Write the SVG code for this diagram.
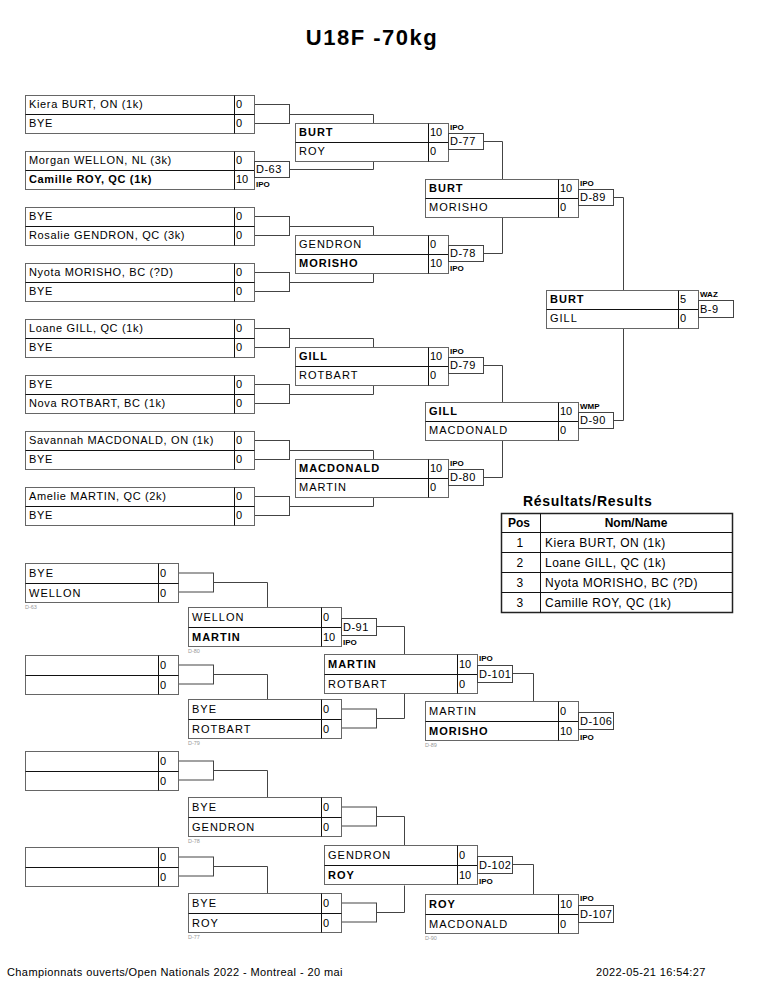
<svg xmlns="http://www.w3.org/2000/svg" width="765" height="990" viewBox="0 0 765 990">
<style>
.bg{fill:#fff}
.bx{fill:#fff;stroke:#666;stroke-width:1}
.dv{stroke:#111;stroke-width:1}
.cn{fill:none;stroke:#444;stroke-width:1}
.mb{fill:#fff;stroke:#444;stroke-width:1}
text{font-family:"Liberation Sans",Arial,Helvetica,sans-serif;fill:#000}
.t{font-size:11px}
.fn{letter-spacing:0.65px}
.sn{letter-spacing:1px}
.b{font-weight:bold}
.sc{font-size:11px}
.ml{font-size:11px;letter-spacing:0.5px}
.rs{font-size:8px;font-weight:bold}
.sm{font-size:5.5px;fill:#999}
.tt{font-size:22px;font-weight:bold;letter-spacing:1.5px}
.rt{font-size:14px;font-weight:bold;letter-spacing:0.7px}
.tb{font-size:12px;letter-spacing:0.5px}
.ft{font-size:11px}
</style>
<rect class="bg" x="0" y="0" width="765" height="990"/>
<text class="tt" x="372" y="45" text-anchor="middle">U18F -70kg</text>

<g id="connectors">
<rect class="mb" x="254.5" y="104.5" width="35" height="19"/>
<path class="cn" d="M289.5,114.5 H373.5 V123.5"/>
<path class="cn" d="M289.5,169.5 H373.5 V161.5"/>
<rect class="mb" x="254.5" y="216.5" width="35" height="19"/>
<path class="cn" d="M289.5,226.5 H373.5 V235.5"/>
<rect class="mb" x="254.5" y="272.5" width="35" height="19"/>
<path class="cn" d="M289.5,282.5 H373.5 V273.5"/>
<rect class="mb" x="254.5" y="328.5" width="35" height="19"/>
<path class="cn" d="M289.5,338.5 H373.5 V347.5"/>
<rect class="mb" x="254.5" y="384.5" width="35" height="19"/>
<path class="cn" d="M289.5,394.5 H373.5 V385.5"/>
<rect class="mb" x="254.5" y="440.5" width="35" height="19"/>
<path class="cn" d="M289.5,450.5 H373.5 V459.5"/>
<rect class="mb" x="254.5" y="496.5" width="35" height="19"/>
<path class="cn" d="M289.5,506.5 H373.5 V497.5"/>
<path class="cn" d="M483.5,141.5 H502.5 V179.5"/>
<path class="cn" d="M483.5,253.5 H502.5 V217.5"/>
<path class="cn" d="M483.5,365.5 H502.5 V402.5"/>
<path class="cn" d="M483.5,477.5 H502.5 V440.5"/>
<path class="cn" d="M613.5,197.5 H623.5 V290.5"/>
<path class="cn" d="M613.5,420.5 H623.5 V328.5"/>
<rect class="mb" x="178.5" y="573" width="35" height="19"/>
<path class="cn" d="M213.5,582.5 H267.5 V607.5"/>
<rect class="mb" x="178.5" y="665" width="35" height="19"/>
<path class="cn" d="M213.5,674.5 H267.5 V699.5"/>
<rect class="mb" x="178.5" y="761" width="35" height="19"/>
<path class="cn" d="M213.5,770.5 H267.5 V797.5"/>
<rect class="mb" x="178.5" y="857" width="35" height="19"/>
<path class="cn" d="M213.5,866.5 H267.5 V893.5"/>
<rect class="mb" x="341.5" y="709" width="35" height="19"/>
<rect class="mb" x="341.5" y="807" width="35" height="19"/>
<rect class="mb" x="341.5" y="903" width="35" height="19"/>
<path class="cn" d="M376.5,626.5 H404.5 V654.5"/>
<path class="cn" d="M376.5,718.5 H404.5 V693.5"/>
<path class="cn" d="M376.5,816.5 H404.5 V845.5"/>
<path class="cn" d="M376.5,912.5 H404.5 V885.5"/>
<path class="cn" d="M512.5,673.5 H533.5 V701.5"/>
<path class="cn" d="M512.5,864.5 H533.5 V894.5"/>
</g>

<!-- Top round 1 -->
<g id="t1"><rect class="bx" x="25.5" y="95.5" width="229" height="38"/><line class="dv" x1="25.5" y1="114.5" x2="254.5" y2="114.5"/><line class="dv" x1="234.5" y1="95.5" x2="234.5" y2="133.5"/>
<text class="t fn" x="29" y="108">Kiera BURT, ON (1k)</text><text class="t fn" x="29" y="127">BYE</text><text class="sc" x="236" y="108">0</text><text class="sc" x="236" y="127">0</text></g>
<g id="t2"><rect class="bx" x="25.5" y="151.5" width="229" height="38"/><line class="dv" x1="25.5" y1="170.5" x2="254.5" y2="170.5"/><line class="dv" x1="234.5" y1="151.5" x2="234.5" y2="189.5"/>
<text class="t fn" x="29" y="164">Morgan WELLON, NL (3k)</text><text class="t fn b" x="29" y="183">Camille ROY, QC (1k)</text><text class="sc" x="236" y="164">0</text><text class="sc" x="236" y="183">10</text>
<rect class="mb" x="254.5" y="161.5" width="35" height="16"/><text class="ml" x="256" y="173">D-63</text><text class="rs" x="256" y="187">IPO</text></g>
<g id="t3"><rect class="bx" x="25.5" y="207.5" width="229" height="38"/><line class="dv" x1="25.5" y1="226.5" x2="254.5" y2="226.5"/><line class="dv" x1="234.5" y1="207.5" x2="234.5" y2="245.5"/>
<text class="t fn" x="29" y="220">BYE</text><text class="t fn" x="29" y="239">Rosalie GENDRON, QC (3k)</text><text class="sc" x="236" y="220">0</text><text class="sc" x="236" y="239">0</text></g>
<g id="t4"><rect class="bx" x="25.5" y="263.5" width="229" height="38"/><line class="dv" x1="25.5" y1="282.5" x2="254.5" y2="282.5"/><line class="dv" x1="234.5" y1="263.5" x2="234.5" y2="301.5"/>
<text class="t fn" x="29" y="276">Nyota MORISHO, BC (?D)</text><text class="t fn" x="29" y="295">BYE</text><text class="sc" x="236" y="276">0</text><text class="sc" x="236" y="295">0</text></g>
<g id="t5"><rect class="bx" x="25.5" y="319.5" width="229" height="38"/><line class="dv" x1="25.5" y1="338.5" x2="254.5" y2="338.5"/><line class="dv" x1="234.5" y1="319.5" x2="234.5" y2="357.5"/>
<text class="t fn" x="29" y="332">Loane GILL, QC (1k)</text><text class="t fn" x="29" y="351">BYE</text><text class="sc" x="236" y="332">0</text><text class="sc" x="236" y="351">0</text></g>
<g id="t6"><rect class="bx" x="25.5" y="375.5" width="229" height="38"/><line class="dv" x1="25.5" y1="394.5" x2="254.5" y2="394.5"/><line class="dv" x1="234.5" y1="375.5" x2="234.5" y2="413.5"/>
<text class="t fn" x="29" y="388">BYE</text><text class="t fn" x="29" y="407">Nova ROTBART, BC (1k)</text><text class="sc" x="236" y="388">0</text><text class="sc" x="236" y="407">0</text></g>
<g id="t7"><rect class="bx" x="25.5" y="431.5" width="229" height="38"/><line class="dv" x1="25.5" y1="450.5" x2="254.5" y2="450.5"/><line class="dv" x1="234.5" y1="431.5" x2="234.5" y2="469.5"/>
<text class="t fn" x="29" y="444">Savannah MACDONALD, ON (1k)</text><text class="t fn" x="29" y="463">BYE</text><text class="sc" x="236" y="444">0</text><text class="sc" x="236" y="463">0</text></g>
<g id="t8"><rect class="bx" x="25.5" y="487.5" width="229" height="38"/><line class="dv" x1="25.5" y1="506.5" x2="254.5" y2="506.5"/><line class="dv" x1="234.5" y1="487.5" x2="234.5" y2="525.5"/>
<text class="t fn" x="29" y="500">Amelie MARTIN, QC (2k)</text><text class="t fn" x="29" y="519">BYE</text><text class="sc" x="236" y="500">0</text><text class="sc" x="236" y="519">0</text></g>

<!-- Top round 2 -->
<g id="r2a"><rect class="bx" x="295.5" y="123.5" width="153" height="38"/><line class="dv" x1="295.5" y1="142.5" x2="448.5" y2="142.5"/><line class="dv" x1="428.5" y1="123.5" x2="428.5" y2="161.5"/>
<text class="t sn b" x="299" y="136">BURT</text><text class="t sn" x="299" y="155">ROY</text><text class="sc" x="430" y="136">10</text><text class="sc" x="430" y="155">0</text>
<rect class="mb" x="448.5" y="133.5" width="35" height="16"/><text class="ml" x="450" y="145">D-77</text><text class="rs" x="450" y="130">IPO</text></g>
<g id="r2b"><rect class="bx" x="295.5" y="235.5" width="153" height="38"/><line class="dv" x1="295.5" y1="254.5" x2="448.5" y2="254.5"/><line class="dv" x1="428.5" y1="235.5" x2="428.5" y2="273.5"/>
<text class="t sn" x="299" y="248">GENDRON</text><text class="t sn b" x="299" y="267">MORISHO</text><text class="sc" x="430" y="248">0</text><text class="sc" x="430" y="267">10</text>
<rect class="mb" x="448.5" y="245.5" width="35" height="16"/><text class="ml" x="450" y="257">D-78</text><text class="rs" x="450" y="271">IPO</text></g>
<g id="r2c"><rect class="bx" x="295.5" y="347.5" width="153" height="38"/><line class="dv" x1="295.5" y1="366.5" x2="448.5" y2="366.5"/><line class="dv" x1="428.5" y1="347.5" x2="428.5" y2="385.5"/>
<text class="t sn b" x="299" y="360">GILL</text><text class="t sn" x="299" y="379">ROTBART</text><text class="sc" x="430" y="360">10</text><text class="sc" x="430" y="379">0</text>
<rect class="mb" x="448.5" y="357.5" width="35" height="16"/><text class="ml" x="450" y="369">D-79</text><text class="rs" x="450" y="354">IPO</text></g>
<g id="r2d"><rect class="bx" x="295.5" y="459.5" width="153" height="38"/><line class="dv" x1="295.5" y1="478.5" x2="448.5" y2="478.5"/><line class="dv" x1="428.5" y1="459.5" x2="428.5" y2="497.5"/>
<text class="t sn b" x="299" y="472">MACDONALD</text><text class="t sn" x="299" y="491">MARTIN</text><text class="sc" x="430" y="472">10</text><text class="sc" x="430" y="491">0</text>
<rect class="mb" x="448.5" y="469.5" width="35" height="16"/><text class="ml" x="450" y="481">D-80</text><text class="rs" x="450" y="466">IPO</text></g>

<!-- Top round 3 -->
<g id="r3a"><rect class="bx" x="425.5" y="179.5" width="153" height="38"/><line class="dv" x1="425.5" y1="198.5" x2="578.5" y2="198.5"/><line class="dv" x1="558.5" y1="179.5" x2="558.5" y2="217.5"/>
<text class="t sn b" x="429" y="192">BURT</text><text class="t sn" x="429" y="211">MORISHO</text><text class="sc" x="560" y="192">10</text><text class="sc" x="560" y="211">0</text>
<rect class="mb" x="578.5" y="189.5" width="35" height="16"/><text class="ml" x="580" y="201">D-89</text><text class="rs" x="580" y="186">IPO</text></g>
<g id="r3b"><rect class="bx" x="425.5" y="402.5" width="153" height="38"/><line class="dv" x1="425.5" y1="421.5" x2="578.5" y2="421.5"/><line class="dv" x1="558.5" y1="402.5" x2="558.5" y2="440.5"/>
<text class="t sn b" x="429" y="415">GILL</text><text class="t sn" x="429" y="434">MACDONALD</text><text class="sc" x="560" y="415">10</text><text class="sc" x="560" y="434">0</text>
<rect class="mb" x="578.5" y="412.5" width="35" height="16"/><text class="ml" x="580" y="424">D-90</text><text class="rs" x="580" y="409">WMP</text></g>

<!-- Final -->
<g id="final"><rect class="bx" x="546.5" y="290.5" width="152" height="38"/><line class="dv" x1="546.5" y1="309.5" x2="698.5" y2="309.5"/><line class="dv" x1="678.5" y1="290.5" x2="678.5" y2="328.5"/>
<text class="t sn b" x="550" y="303">BURT</text><text class="t sn" x="550" y="322">GILL</text><text class="sc" x="680" y="303">5</text><text class="sc" x="680" y="322">0</text>
<rect class="mb" x="698.5" y="300.5" width="35" height="17"/><text class="ml" x="700" y="313">B-9</text><text class="rs" x="700" y="297">WAZ</text></g>

<!-- Results -->
<g id="results">
<text class="rt" x="523" y="506">Résultats/Results</text>
<rect fill="#fff" stroke="#222" stroke-width="1.5" x="501.5" y="513.5" width="231" height="99"/>
<line class="dv" x1="501.5" y1="532.5" x2="732.5" y2="532.5"/>
<line class="dv" x1="501.5" y1="552.5" x2="732.5" y2="552.5"/>
<line class="dv" x1="501.5" y1="572.5" x2="732.5" y2="572.5"/>
<line class="dv" x1="501.5" y1="592.5" x2="732.5" y2="592.5"/>
<line class="dv" x1="540.5" y1="513.5" x2="540.5" y2="612.5"/>
<text class="tb b" x="519" y="527" text-anchor="middle" style="letter-spacing:0">Pos</text>
<text class="tb b" x="636" y="527" text-anchor="middle" style="letter-spacing:0">Nom/Name</text>
<text class="tb" x="520" y="547" text-anchor="middle">1</text><text class="tb" x="545" y="547">Kiera BURT, ON (1k)</text>
<text class="tb" x="520" y="567" text-anchor="middle">2</text><text class="tb" x="545" y="567">Loane GILL, QC (1k)</text>
<text class="tb" x="520" y="587" text-anchor="middle">3</text><text class="tb" x="545" y="587">Nyota MORISHO, BC (?D)</text>
<text class="tb" x="520" y="607" text-anchor="middle">3</text><text class="tb" x="545" y="607">Camille ROY, QC (1k)</text>
</g>

<!-- Bottom round 1 -->
<g id="l1a"><rect class="bx" x="25.5" y="563.5" width="153" height="39"/><line class="dv" x1="25.5" y1="583.5" x2="178.5" y2="583.5"/><line class="dv" x1="158.5" y1="563.5" x2="158.5" y2="602.5"/>
<text class="t sn" x="29" y="577">BYE</text><text class="t sn" x="29" y="597">WELLON</text><text class="sc" x="160" y="577">0</text><text class="sc" x="160" y="597">0</text><text class="sm" x="25" y="609">D-63</text></g>
<g id="l1b"><rect class="bx" x="25.5" y="655.5" width="153" height="39"/><line class="dv" x1="25.5" y1="675.5" x2="178.5" y2="675.5"/><line class="dv" x1="158.5" y1="655.5" x2="158.5" y2="694.5"/>
<text class="sc" x="160" y="669">0</text><text class="sc" x="160" y="689">0</text></g>
<g id="l1c"><rect class="bx" x="25.5" y="751.5" width="153" height="39"/><line class="dv" x1="25.5" y1="771.5" x2="178.5" y2="771.5"/><line class="dv" x1="158.5" y1="751.5" x2="158.5" y2="790.5"/>
<text class="sc" x="160" y="765">0</text><text class="sc" x="160" y="785">0</text></g>
<g id="l1d"><rect class="bx" x="25.5" y="847.5" width="153" height="39"/><line class="dv" x1="25.5" y1="867.5" x2="178.5" y2="867.5"/><line class="dv" x1="158.5" y1="847.5" x2="158.5" y2="886.5"/>
<text class="sc" x="160" y="861">0</text><text class="sc" x="160" y="881">0</text></g>

<!-- Bottom round 2 -->
<g id="l2a"><rect class="bx" x="188.5" y="607.5" width="153" height="39"/><line class="dv" x1="188.5" y1="627.5" x2="341.5" y2="627.5"/><line class="dv" x1="321.5" y1="607.5" x2="321.5" y2="646.5"/>
<text class="t sn" x="192" y="621">WELLON</text><text class="t sn b" x="192" y="641">MARTIN</text><text class="sc" x="323" y="621">0</text><text class="sc" x="323" y="641">10</text><text class="sm" x="188" y="653">D-80</text>
<rect class="mb" x="341.5" y="618.5" width="35" height="17"/><text class="ml" x="343" y="631">D-91</text><text class="rs" x="343" y="645">IPO</text></g>
<g id="l2b"><rect class="bx" x="188.5" y="699.5" width="153" height="39"/><line class="dv" x1="188.5" y1="719.5" x2="341.5" y2="719.5"/><line class="dv" x1="321.5" y1="699.5" x2="321.5" y2="738.5"/>
<text class="t sn" x="192" y="713">BYE</text><text class="t sn" x="192" y="733">ROTBART</text><text class="sc" x="323" y="713">0</text><text class="sc" x="323" y="733">0</text><text class="sm" x="188" y="745">D-79</text></g>
<g id="l2c"><rect class="bx" x="188.5" y="797.5" width="153" height="39"/><line class="dv" x1="188.5" y1="817.5" x2="341.5" y2="817.5"/><line class="dv" x1="321.5" y1="797.5" x2="321.5" y2="836.5"/>
<text class="t sn" x="192" y="811">BYE</text><text class="t sn" x="192" y="831">GENDRON</text><text class="sc" x="323" y="811">0</text><text class="sc" x="323" y="831">0</text><text class="sm" x="188" y="843">D-78</text></g>
<g id="l2d"><rect class="bx" x="188.5" y="893.5" width="153" height="39"/><line class="dv" x1="188.5" y1="913.5" x2="341.5" y2="913.5"/><line class="dv" x1="321.5" y1="893.5" x2="321.5" y2="932.5"/>
<text class="t sn" x="192" y="907">BYE</text><text class="t sn" x="192" y="927">ROY</text><text class="sc" x="323" y="907">0</text><text class="sc" x="323" y="927">0</text><text class="sm" x="188" y="939">D-77</text></g>

<!-- Bottom round 3 -->
<g id="l3a"><rect class="bx" x="324.5" y="654.5" width="153" height="39"/><line class="dv" x1="324.5" y1="674.5" x2="477.5" y2="674.5"/><line class="dv" x1="457.5" y1="654.5" x2="457.5" y2="693.5"/>
<text class="t sn b" x="328" y="668">MARTIN</text><text class="t sn" x="328" y="688">ROTBART</text><text class="sc" x="459" y="668">10</text><text class="sc" x="459" y="688">0</text>
<rect class="mb" x="477.5" y="665.5" width="35" height="17"/><text class="ml" x="479" y="678">D-101</text><text class="rs" x="479" y="661">IPO</text></g>
<g id="l3b"><rect class="bx" x="324.5" y="845.5" width="153" height="39"/><line class="dv" x1="324.5" y1="865.5" x2="477.5" y2="865.5"/><line class="dv" x1="457.5" y1="845.5" x2="457.5" y2="884.5"/>
<text class="t sn" x="328" y="859">GENDRON</text><text class="t sn b" x="328" y="879">ROY</text><text class="sc" x="459" y="859">0</text><text class="sc" x="459" y="879">10</text>
<rect class="mb" x="477.5" y="856.5" width="35" height="17"/><text class="ml" x="479" y="869">D-102</text><text class="rs" x="479" y="884">IPO</text></g>

<!-- Bottom round 4 -->
<g id="l4a"><rect class="bx" x="425.5" y="701.5" width="153" height="39"/><line class="dv" x1="425.5" y1="721.5" x2="578.5" y2="721.5"/><line class="dv" x1="558.5" y1="701.5" x2="558.5" y2="740.5"/>
<text class="t sn" x="429" y="715">MARTIN</text><text class="t sn b" x="429" y="735">MORISHO</text><text class="sc" x="560" y="715">0</text><text class="sc" x="560" y="735">10</text><text class="sm" x="425" y="747">D-89</text>
<rect class="mb" x="578.5" y="712.5" width="35" height="17"/><text class="ml" x="580" y="725">D-106</text><text class="rs" x="580" y="740">IPO</text></g>
<g id="l4b"><rect class="bx" x="425.5" y="894.5" width="153" height="39"/><line class="dv" x1="425.5" y1="914.5" x2="578.5" y2="914.5"/><line class="dv" x1="558.5" y1="894.5" x2="558.5" y2="933.5"/>
<text class="t sn b" x="429" y="908">ROY</text><text class="t sn" x="429" y="928">MACDONALD</text><text class="sc" x="560" y="908">10</text><text class="sc" x="560" y="928">0</text><text class="sm" x="425" y="940">D-90</text>
<rect class="mb" x="578.5" y="905.5" width="35" height="17"/><text class="ml" x="580" y="918">D-107</text><text class="rs" x="580" y="901">IPO</text></g>

<text class="ft" x="7" y="976" style="letter-spacing:0.4px">Championnats ouverts/Open Nationals 2022 - Montreal - 20 mai</text>
<text class="ft" x="596" y="976" style="letter-spacing:0.4px">2022-05-21 16:54:27</text>
</svg>
